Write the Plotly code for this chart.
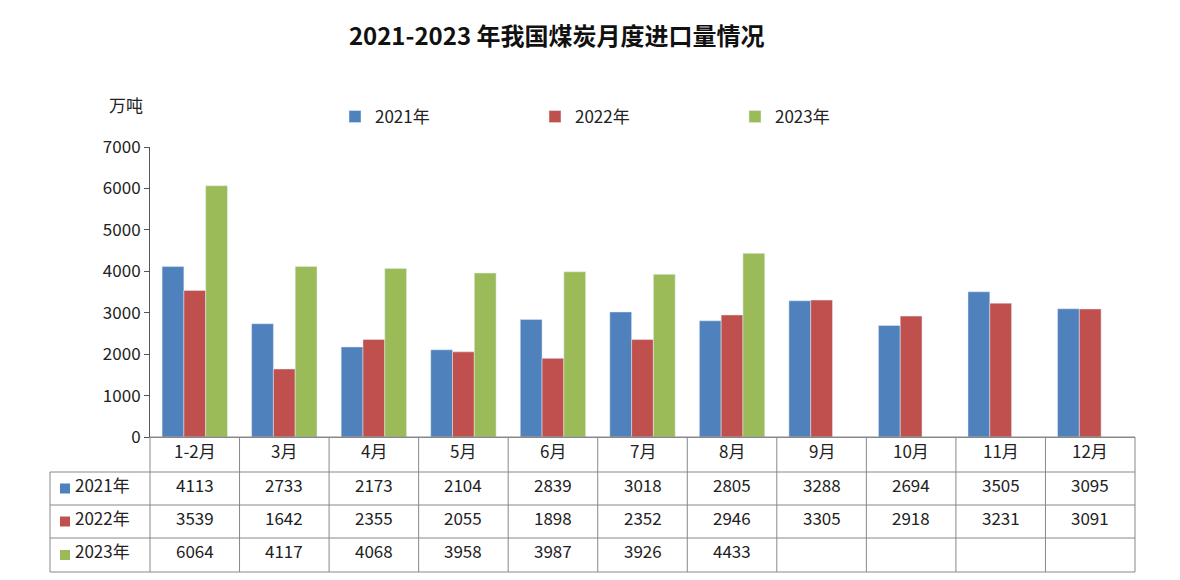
import plotly.graph_objects as go

cats = ["1-2月","3月","4月","5月","6月","7月","8月","9月","10月","11月","12月"]
s2021 = [4113,2733,2173,2104,2839,3018,2805,3288,2694,3505,3095]
s2022 = [3539,1642,2355,2055,1898,2352,2946,3305,2918,3231,3091]
s2023 = [6064,4117,4068,3958,3987,3926,4433,None,None,None,None]
names = ["2021年","2022年","2023年"]
colors = ["#4F81BD","#C0504D","#9BBB59"]
series = [s2021,s2022,s2023]

W,H = 1180,580
O = 8
L,R,T,B = 150-O,1135-O,147-O,437-O
fig = go.Figure()
for n,c,s in zip(names,colors,series):
    fig.add_bar(x=cats,y=s,name=n,marker_color=c)

def px(p): return (p-O-L)/(R-L)
def py(p): return (B-(p-O))/(B-T)
font = dict(family="Noto Sans CJK SC", size=17, color="#222")
YS=-10
shapes=[]; ann=[]
rows=[437,472,505,538,572]
for r in rows:
    x0 = 150 if r==437 else 50
    shapes.append(dict(type="line",xref="paper",yref="paper",x0=px(x0),x1=1,y0=py(r),y1=py(r),line=dict(color="#888",width=1)))
step=(1135-150)/11
for i in range(12):
    xx=150+i*step
    shapes.append(dict(type="line",xref="paper",yref="paper",x0=px(xx),x1=px(xx),y0=py(437),y1=py(572),line=dict(color="#888",width=1)))
shapes.append(dict(type="line",xref="paper",yref="paper",x0=px(50),x1=px(50),y0=py(472),y1=py(572),line=dict(color="#888",width=1)))
for i,c in enumerate(cats):
    ann.append(dict(x=c,xref="x",yref="paper",y=py(455),yshift=YS,text=c,showarrow=False,font=font))
for k,(n,col,s) in enumerate(zip(names,colors,series)):
    yc=(rows[k+1]+rows[k+2])/2
    shapes.append(dict(type="rect",xref="paper",yref="paper",x0=px(60),x1=px(70),y0=py(yc-5),y1=py(yc+5),fillcolor=col,line=dict(width=0)))
    ann.append(dict(x=px(73),xref="paper",yref="paper",y=py(yc),yshift=YS,text=n,xanchor="left",showarrow=False,font=font))
    for c,v in zip(cats,s):
        if v is not None:
            ann.append(dict(x=c,xref="x",yref="paper",y=py(yc),yshift=YS,text=str(v),showarrow=False,font=font))
ann.append(dict(x=px(107),xref="paper",yref="paper",y=py(105),yshift=15,text="万吨",showarrow=False,font=font))

fig.update_layout(
    width=W,height=H,paper_bgcolor="white",plot_bgcolor="white",
    margin=dict(l=L,r=W-R,t=T,b=H-B),
    title=dict(text="<b>2021-2023 年我国煤炭月度进口量情况</b>",x=0.465,xanchor="center",y=1-(37-O)/H,yanchor="middle",
               font=dict(family="Noto Sans CJK SC",size=24,color="#111")),
    barmode="group",bargap=0.27,bargroupgap=0,
    legend=dict(orientation="h",x=px(335),xanchor="left",y=py(117),yanchor="middle",font=font,
                itemwidth=30,traceorder="normal",entrywidth=155,entrywidthmode="pixels"),
    xaxis=dict(showticklabels=False,showline=True,linecolor="#888",ticks=""),
    yaxis=dict(range=[0,7000],dtick=1000,showgrid=False,showline=True,linecolor="#555",ticks="outside",
               ticklen=5,tickcolor="#555",tickfont=font,zeroline=False),
    shapes=shapes,annotations=ann,font=font)
fig.write_html("out.html")
